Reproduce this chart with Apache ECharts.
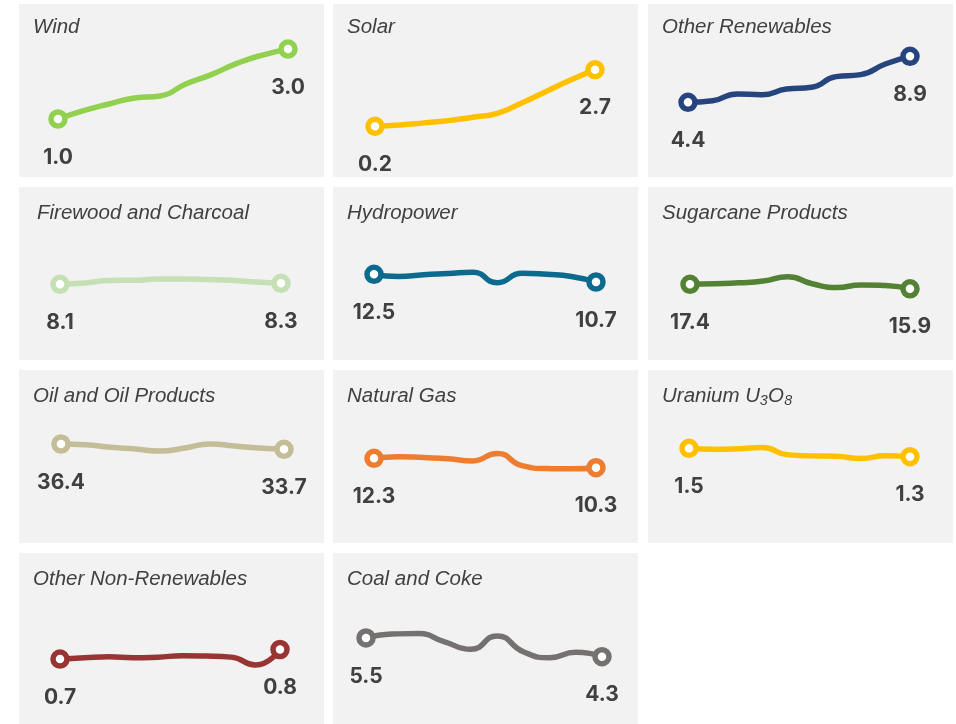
<!DOCTYPE html>
<html>
<head>
<meta charset="utf-8">
<script src="https://cdn.jsdelivr.net/npm/echarts@6/dist/echarts.min.js"></script>
<style>
  html, body { margin: 0; padding: 0; background: #fff; }
  #chart { width: 956px; height: 724px; }
</style>
</head>
<body>
<div id="chart"></div>
<script>
// years on the hidden x axis
const years = ['2014', '2015', '2016', '2017', '2018', '2019', '2020', '2021', '2022', '2023']

// share of supply (%)
const wind = [1.0, 1.24, 1.43, 1.6, 1.66, 2.0, 2.27, 2.59, 2.83, 3.0]
const solar = [0.2, 0.26, 0.35, 0.45, 0.6, 0.77, 1.23, 1.74, 2.24, 2.7]
const otherRenewables = [4.4, 4.56, 5.22, 5.15, 5.7, 5.87, 6.91, 7.11, 8.15, 8.9]
const firewood = [8.1, 8.35, 8.88, 8.92, 9.15, 9.18, 9.08, 8.9, 8.55, 8.3]
const hydropower = [12.5, 12.0, 12.4, 12.7, 13.0, 10.55, 12.75, 12.5, 12.0, 10.7]
const sugarcane = [17.4, 17.6, 17.9, 18.5, 19.9, 17.6, 16.3, 17.2, 17.0, 15.9]
const oil = [36.4, 36.06, 34.71, 33.87, 32.86, 34.37, 36.4, 35.39, 34.37, 33.7]
const naturalGas = [12.3, 12.65, 12.45, 12.2, 11.75, 13.35, 10.75, 10.1, 10.05, 10.3]
const uranium = [1.5, 1.48, 1.49, 1.52, 1.35, 1.32, 1.31, 1.26, 1.32, 1.3]
const otherNonRenewables = [0.7, 0.714, 0.724, 0.714, 0.72, 0.734, 0.731, 0.72, 0.638, 0.8]
const coal = [5.5, 5.75, 5.78, 5.25, 4.78, 5.63, 4.62, 4.24, 4.58, 4.3]

const names = ['Wind', 'Solar', 'Other Renewables', 'Firewood and Charcoal', 'Hydropower',
  'Sugarcane Products', 'Oil and Oil Products', 'Natural Gas', 'Uranium U₃O₈',
  'Other Non-Renewables', 'Coal and Coke']
const values = [wind, solar, otherRenewables, firewood, hydropower, sugarcane,
  oil, naturalGas, uranium, otherNonRenewables, coal]
const colors = ['#92D050', '#FFC000', '#26447E', '#C5E0B4', '#0B6A8D', '#548235',
  '#C4BD97', '#ED7D31', '#FFC000', '#983432', '#767171']
// each small chart has its own value axis
const yMin = [-0.66, -2.04, -2.91, -7.03, -7.61, -7.83, -13.73, -5.83, -0.77, 0.02, 0]
const yMax = [4.29, 5.6, 14.02, 27.57, 33.0, 49.84, 73.87, 31.21, 3.38, 1.81, 10.93]

// layout
const colLeft = [19, 333, 648]
const rowTop = [4, 187, 370, 553]
const panelW = 305
const panelH = 173
const insetL = [39, 42, 40, 41, 41, 42, 42, 41, 41, 41, 33]
const insetR = [269, 262, 262, 262, 263, 262, 265, 263, 262, 261, 269]

const chart = echarts.init(document.getElementById('chart'))

const grid = [], xAxis = [], yAxis = [], series = [], title = [], graphic = []

names.forEach((name, i) => {
  const px = colLeft[i % 3]
  const py = rowTop[Math.floor(i / 3)]
  const n = values[i].length

  graphic.push({
    type: 'rect',
    shape: { x: px, y: py, width: panelW, height: panelH },
    style: { fill: '#F2F2F2' },
    z: 0,
    silent: true
  })

  title.push({
    text: name,
    left: px + (i === 3 ? 18 : 14),
    top: py + (i < 3 ? 13 : 16),
    padding: 0,
    textStyle: {
      fontFamily: 'Liberation Sans, Arial, sans-serif',
      fontStyle: 'italic',
      fontWeight: 'normal',
      fontSize: 20.5,
      color: '#404040'
    }
  })

  grid.push({
    left: px + insetL[i],
    width: insetR[i] - insetL[i],
    top: py,
    height: panelH
  })

  xAxis.push({
    type: 'category',
    gridIndex: i,
    data: years,
    boundaryGap: false,
    show: false
  })

  yAxis.push({
    type: 'value',
    gridIndex: i,
    min: yMin[i],
    max: yMax[i],
    show: false
  })

  series.push({
    name: name,
    type: 'line',
    xAxisIndex: i,
    yAxisIndex: i,
    smooth: 0.55,
    z: 3,
    lineStyle: { color: colors[i], width: 5.5 },
    itemStyle: { color: '#fff', borderColor: colors[i], borderWidth: 5.5 },
    data: values[i].map((v, j) => {
      const end = j === 0 || j === n - 1
      return {
        value: v,
        symbol: end ? 'circle' : 'none',
        symbolSize: 14,
        label: {
          show: end,
          position: 'bottom',
          distance: 18,
          formatter: p => p.value.toFixed(1),
          fontFamily: 'Inter, Liberation Sans, sans-serif',
          fontWeight: 'bold',
          fontSize: 21,
          color: '#404040'
        }
      }
    })
  })
})

chart.setOption({
  animation: false,
  backgroundColor: '#fff',
  graphic: graphic,
  title: title,
  grid: grid,
  xAxis: xAxis,
  yAxis: yAxis,
  series: series
})
</script>
</body>
</html>
